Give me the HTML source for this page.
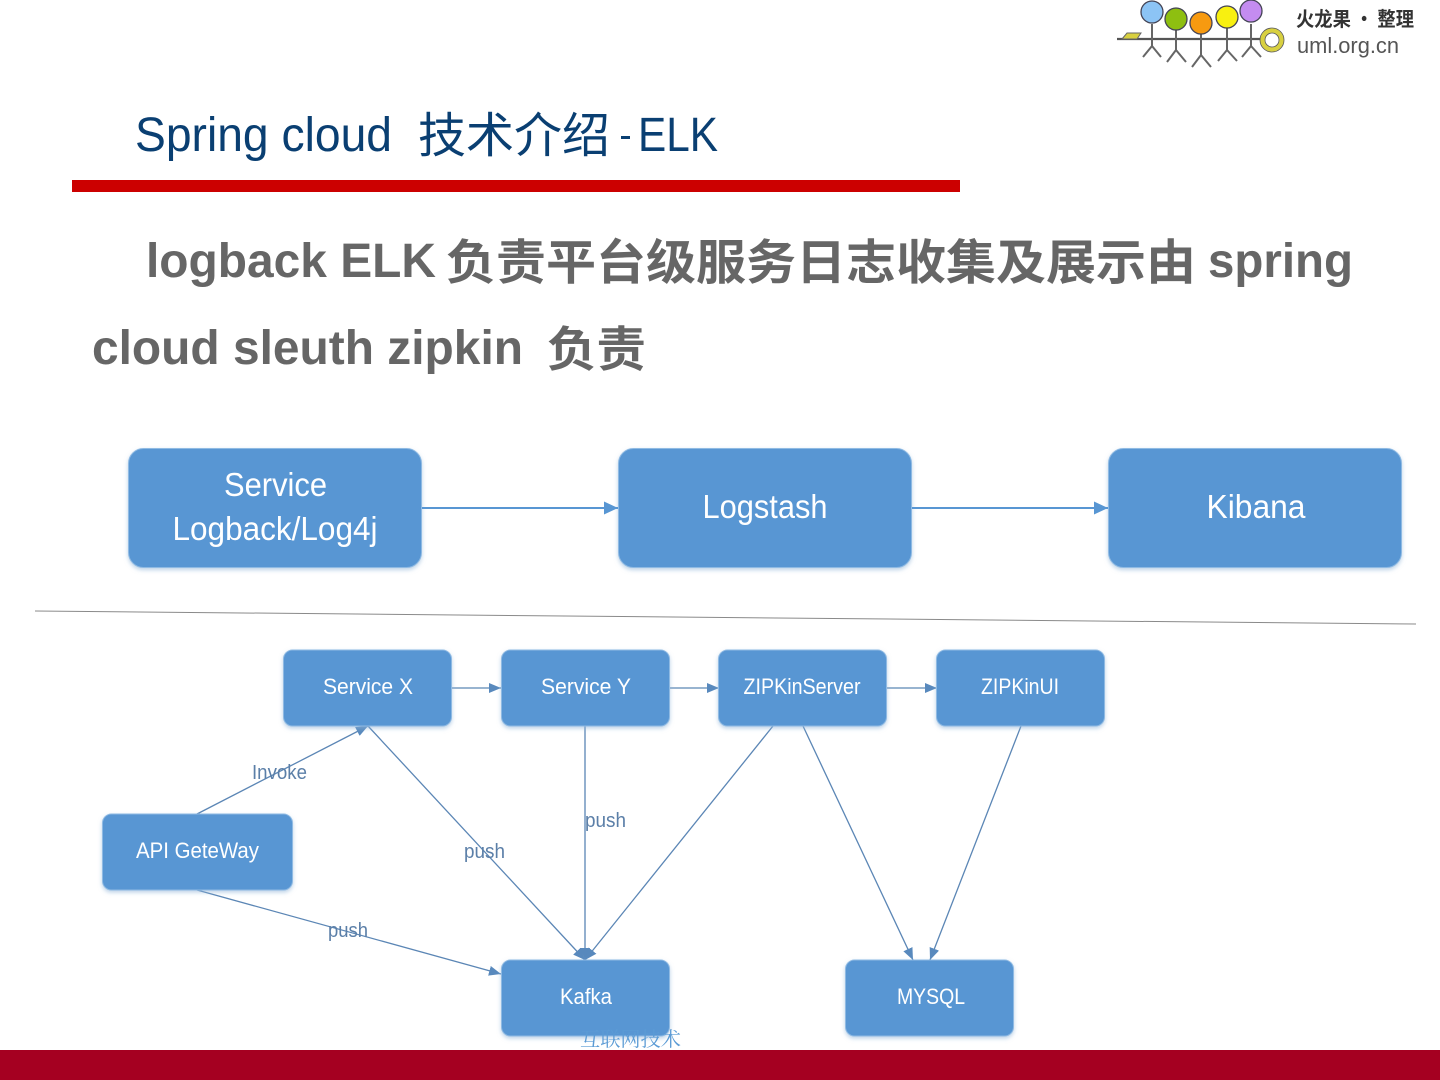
<!DOCTYPE html>
<html><head><meta charset="utf-8"><style>
html,body{margin:0;padding:0;background:#fff;width:1440px;height:1080px;overflow:hidden}
svg{display:block}
text{font-family:"Liberation Sans","Noto Sans CJK SC",sans-serif}
.w{fill:#fff;text-anchor:middle}
.l{fill:#5b7fa8;font-size:20px}
.b{font-weight:bold;font-size:48px;fill:#666}
.c{font-family:"WenQuanYi Zen Hei","Noto Sans CJK SC",sans-serif}
.t{fill:#0a3f72;font-size:48px}
</style></head><body>
<svg width="1440" height="1080" viewBox="0 0 1440 1080" xmlns="http://www.w3.org/2000/svg">
<defs>
<marker id="a" markerUnits="userSpaceOnUse" markerWidth="14" markerHeight="14" refX="14" refY="7" orient="auto"><path d="M0 0.500L14 7L0 13.500z" fill="#5896d3"/></marker>
<marker id="s" markerUnits="userSpaceOnUse" markerWidth="12" markerHeight="12" refX="12" refY="6" orient="auto"><path d="M0 1L12 6L0 11z" fill="#5889bd"/></marker>
<filter id="sh" x="-10%" y="-10%" width="120%" height="130%"><feDropShadow dx="0" dy="2" stdDeviation="2" flood-color="#8fb4d8" flood-opacity=".6"/></filter>
</defs>

<!-- logo -->
<g>
<path d="M1117 39H1262" stroke="#555" stroke-width="2.200"/>
<path d="M1122 39L1127 33H1141L1137 39z" fill="#d8d040" stroke="#666"/>
<g stroke="#666" stroke-width="2" fill="none">
<path d="M1152 24V46M1152 46L1143 57M1152 46L1161 57"/>
<path d="M1176 30V50M1176 50L1167 62M1176 50L1186 62"/>
<path d="M1201 34V55M1201 55L1192 67M1201 55L1211 67"/>
<path d="M1227 28V50M1227 50L1218 61M1227 50L1237 61"/>
<path d="M1251 24V46M1251 46L1242 57M1251 46L1261 57"/>
</g>
<circle cx="1152" cy="12" r="11" fill="#8cc4f5" stroke="#445" stroke-width="1.300"/>
<circle cx="1176" cy="19" r="11" fill="#8ebf10" stroke="#445" stroke-width="1.300"/>
<circle cx="1201" cy="23" r="11" fill="#f79a10" stroke="#445" stroke-width="1.300"/>
<circle cx="1227" cy="17" r="11" fill="#f8f010" stroke="#445" stroke-width="1.300"/>
<circle cx="1251" cy="11" r="11" fill="#c48cf0" stroke="#445" stroke-width="1.300"/>
<circle cx="1272" cy="40" r="9.500" fill="#fff" stroke="#d8d040" stroke-width="4.500"/>
<circle cx="1272" cy="40" r="12" fill="none" stroke="#555" stroke-width=".8"/>
<circle cx="1272" cy="40" r="7" fill="none" stroke="#555" stroke-width=".8"/>
<text class="c" x="1296" y="26" font-size="20" font-weight="bold" fill="#333" textLength="118" lengthAdjust="spacingAndGlyphs">火龙果 · 整理</text>
<text x="1297" y="53" font-size="22" fill="#555" textLength="102" lengthAdjust="spacingAndGlyphs">uml.org.cn</text>
</g>

<!-- title -->
<text class="t" x="135" y="151" textLength="257" lengthAdjust="spacingAndGlyphs">Spring cloud</text>
<text class="t c" x="418" y="152" textLength="192" lengthAdjust="spacingAndGlyphs">技术介绍</text>
<rect x="621" y="136" width="9" height="3" fill="#0a3f72"/>
<text class="t" x="638" y="151" textLength="80" lengthAdjust="spacingAndGlyphs">ELK</text>
<rect x="72" y="180" width="888" height="12" fill="#cc0000"/>

<!-- body -->
<text class="b" x="146" y="277" textLength="290" lengthAdjust="spacingAndGlyphs">logback ELK</text>
<text class="b c" x="446" y="279" textLength="750" lengthAdjust="spacingAndGlyphs">负责平台级服务日志收集及展示由</text>
<text class="b" x="1208" y="277" textLength="145" lengthAdjust="spacingAndGlyphs">spring</text>
<text class="b" x="92" y="364" textLength="431" lengthAdjust="spacingAndGlyphs">cloud sleuth zipkin</text>
<text class="b c" x="547" y="366" textLength="99" lengthAdjust="spacingAndGlyphs">负责</text>

<!-- top row -->
<g fill="#5896d3" stroke="#8fbae3" stroke-width="1" filter="url(#sh)">
<rect x="128.500" y="448.500" width="293" height="119" rx="15"/>
<rect x="618.500" y="448.500" width="293" height="119" rx="15"/>
<rect x="1108.500" y="448.500" width="293" height="119" rx="15"/>
</g>
<g stroke="#5896d3" stroke-width="2" fill="none">
<path d="M422 508H618" marker-end="url(#a)"/>
<path d="M912 508H1108" marker-end="url(#a)"/>
</g>
<text class="w" x="275.500" y="496" font-size="33" textLength="103" lengthAdjust="spacingAndGlyphs">Service</text>
<text class="w" x="275" y="540" font-size="33" textLength="205" lengthAdjust="spacingAndGlyphs">Logback/Log4j</text>
<text class="w" x="765" y="518" font-size="33" textLength="125" lengthAdjust="spacingAndGlyphs">Logstash</text>
<text class="w" x="1256" y="518" font-size="33" textLength="99" lengthAdjust="spacingAndGlyphs">Kibana</text>

<!-- divider -->
<path d="M35 611L1416 624" stroke="#8a8a8a" stroke-width="1"/>

<!-- lower connectors -->
<g stroke="#5b86b5" stroke-width="1.300" fill="none">
<path d="M451 688H501" marker-end="url(#s)"/>
<path d="M669 688H719" marker-end="url(#s)"/>
<path d="M887 688H937" marker-end="url(#s)"/>
<path d="M197 814L368 726" marker-end="url(#s)"/>
<path d="M368 726L585 960" marker-end="url(#s)"/>
<path d="M585 726V960" marker-end="url(#s)"/>
<path d="M773 726L585 960" marker-end="url(#s)"/>
<path d="M197 890L501 974" marker-end="url(#s)"/>
<path d="M803 726L913 960" marker-end="url(#s)"/>
<path d="M1021 726L930 960" marker-end="url(#s)"/>
</g>

<!-- lower boxes -->
<g fill="#5896d3" stroke="#8fbae3" stroke-width="1" filter="url(#sh)">
<rect x="283.500" y="650" width="168" height="76" rx="9"/>
<rect x="501.500" y="650" width="168" height="76" rx="9"/>
<rect x="718.500" y="650" width="168" height="76" rx="9"/>
<rect x="936.500" y="650" width="168" height="76" rx="9"/>
<rect x="102.500" y="814" width="190" height="76" rx="9"/>
<rect x="501.500" y="960" width="168" height="76" rx="9"/>
<rect x="845.500" y="960" width="168" height="76" rx="9"/>
</g>
<g font-size="22">
<text class="w" x="368" y="694" textLength="90" lengthAdjust="spacingAndGlyphs">Service X</text>
<text class="w" x="586" y="694" textLength="90" lengthAdjust="spacingAndGlyphs">Service Y</text>
<text class="w" x="802" y="694" textLength="117" lengthAdjust="spacingAndGlyphs">ZIPKinServer</text>
<text class="w" x="1020" y="694" textLength="78" lengthAdjust="spacingAndGlyphs">ZIPKinUI</text>
<text class="w" x="197.500" y="858" textLength="123" lengthAdjust="spacingAndGlyphs">API GeteWay</text>
<text class="w" x="586" y="1004" textLength="52" lengthAdjust="spacingAndGlyphs">Kafka</text>
<text class="w" x="931" y="1004" textLength="68" lengthAdjust="spacingAndGlyphs">MYSQL</text>
</g>

<!-- connector labels -->
<text class="l" x="252" y="779" textLength="55" lengthAdjust="spacingAndGlyphs">Invoke</text>
<text class="l" x="585" y="827" textLength="41" lengthAdjust="spacingAndGlyphs">push</text>
<text class="l" x="464" y="858" textLength="41" lengthAdjust="spacingAndGlyphs">push</text>
<text class="l" x="328" y="937" textLength="40" lengthAdjust="spacingAndGlyphs">push</text>

<!-- footer -->
<text x="580" y="1046" font-size="20" fill="#5b9bd5" textLength="101" lengthAdjust="spacingAndGlyphs" style="font-family:'Noto Serif CJK SC',serif">互联网技术</text>
<rect x="0" y="1050" width="1440" height="30" fill="#a50021"/>
</svg>
</body></html>
